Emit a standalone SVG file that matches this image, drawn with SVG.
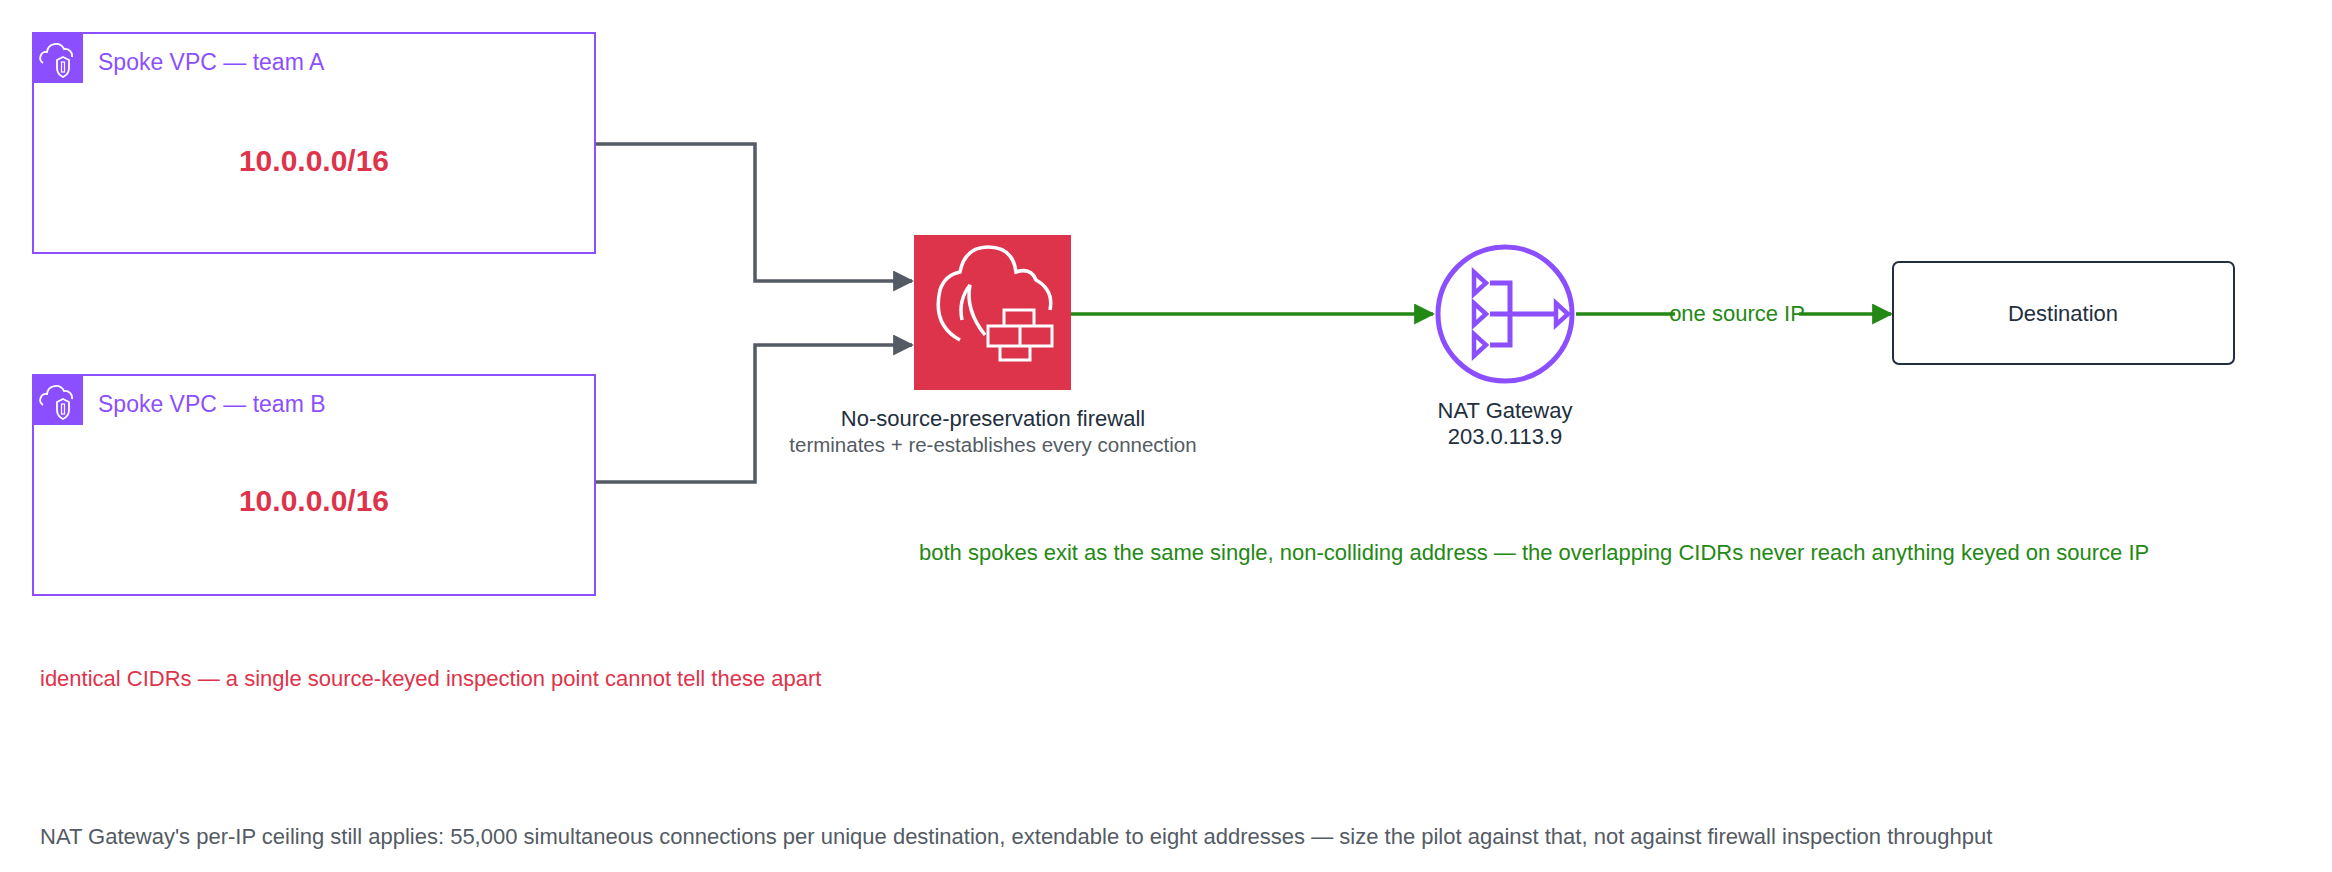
<svg xmlns="http://www.w3.org/2000/svg" width="2332" height="872" viewBox="0 0 2332 872">
<defs>
<style>
text{font-family:"Liberation Sans",Arial,sans-serif}
.vpc{fill:#fff;stroke:#8C4FFF;stroke-width:2}
.vl{fill:#8C4FFF;font-size:23px}
.cidr{fill:#DD344C;font-size:30px;font-weight:bold}
.gl{fill:none;stroke:#545B64;stroke-width:3.5}
.gr{fill:none;stroke:#248814;stroke-width:3.5}
.lbl{fill:#232F3E;font-size:22px}
.sub{fill:#545B64;font-size:20.5px}
.gn{fill:#248814;font-size:22px}
</style>
<marker id="ag" viewBox="0 0 10 10" refX="9" refY="5" markerWidth="6" markerHeight="6" orient="auto" markerUnits="strokeWidth"><path d="M0,0L10,5L0,10z" fill="#545B64"/></marker>
<marker id="agr" viewBox="0 0 10 10" refX="9" refY="5" markerWidth="6" markerHeight="6" orient="auto" markerUnits="strokeWidth"><path d="M0,0L10,5L0,10z" fill="#248814"/></marker>
<g id="vpcicon">
<rect width="50" height="50" fill="#8C4FFF"/>
<path d="M10,30 a6,6 0 0 1 4,-11 a9,9 0 0 1 17,-3 a7,7 0 0 1 8,8" fill="none" stroke="#fff" stroke-width="1.8"/>
<path d="M30,24 l6,3 v8 q0,6 -6,9 q-6,-3 -6,-9 v-8z" fill="none" stroke="#fff" stroke-width="1.8"/>
<rect x="28.5" y="29" width="3" height="10" fill="none" stroke="#fff" stroke-width="1.2"/>
</g>
</defs>
<rect width="2332" height="872" fill="#fff"/>
<g id="connectors">
<path class="gl" d="M595,144H755V281H912" marker-end="url(#ag)"/>
<path class="gl" d="M595,482H755V345H912" marker-end="url(#ag)"/>
<path class="gr" d="M1071,314H1433" marker-end="url(#agr)"/>
<path class="gr" d="M1576,314H1891" marker-end="url(#agr)"/>
<rect x="1675" y="302" width="124" height="24" fill="#fff"/>
<text class="gn" x="1737" y="321" text-anchor="middle" font-size="19">one source IP</text>
</g>
<g id="vpcA">
<rect class="vpc" x="33" y="33" width="562" height="220"/>
<use href="#vpcicon" x="33" y="33"/>
<text class="vl" x="98" y="70">Spoke VPC — team A</text>
<text class="cidr" x="314" y="171" text-anchor="middle">10.0.0.0/16</text>
</g>
<g id="vpcB">
<rect class="vpc" x="33" y="375" width="562" height="220"/>
<use href="#vpcicon" x="33" y="375"/>
<text class="vl" x="98" y="412">Spoke VPC — team B</text>
<text class="cidr" x="314" y="511" text-anchor="middle">10.0.0.0/16</text>
</g>
<g id="firewall">
<rect x="914" y="235" width="157" height="155" fill="#DD344C"/>
<path d="M960,340 q-28,-15 -20,-50 q5,-15 20,-18 q5,-25 28,-25 q25,0 28,25 q15,-5 20,8 q18,10 14,30" fill="none" stroke="#fff" stroke-width="3.5"/>
<path d="M985,335 q-20,-25 -15,-50 q-12,15 -8,35" fill="none" stroke="#fff" stroke-width="3.5"/>
<path d="M1004,310h30v16h-30zM988,326h64v20h-64zM1020,326v20M1000,346h30v14h-30z" fill="#DD344C" stroke="#fff" stroke-width="3"/>
<text class="lbl" x="993" y="426" text-anchor="middle">No-source-preservation firewall</text>
<text class="sub" x="993" y="452" text-anchor="middle">terminates + re-establishes every connection</text>
</g>
<g id="nat">
<circle cx="1505" cy="314" r="67" fill="#fff" stroke="#8C4FFF" stroke-width="5"/>
<path d="M1474,272v22l12,-11zM1474,303v22l12,-11zM1474,334v22l12,-11zM1556,303v22l12,-11z" fill="none" stroke="#8C4FFF" stroke-width="4.5"/>
<path d="M1490,283h20v62h-20M1490,314h66" fill="none" stroke="#8C4FFF" stroke-width="5"/>
<text class="lbl" x="1505" y="418" text-anchor="middle">NAT Gateway</text>
<text class="lbl" x="1505" y="444" text-anchor="middle" font-size="20">203.0.113.9</text>
</g>
<g id="destination">
<rect x="1893" y="262" width="341" height="102" rx="6" fill="#fff" stroke="#232F3E" stroke-width="2"/>
<text class="lbl" x="2063" y="321" text-anchor="middle" font-size="24">Destination</text>
</g>
<text class="gn" x="919" y="560">both spokes exit as the same single, non-colliding address — the overlapping CIDRs never reach anything keyed on source IP</text>
<text x="40" y="686" fill="#DD344C" font-size="22">identical CIDRs — a single source-keyed inspection point cannot tell these apart</text>
<text x="40" y="844" fill="#545B64" font-size="22">NAT Gateway's per-IP ceiling still applies: 55,000 simultaneous connections per unique destination, extendable to eight addresses — size the pilot against that, not against firewall inspection throughput</text>
</svg>
